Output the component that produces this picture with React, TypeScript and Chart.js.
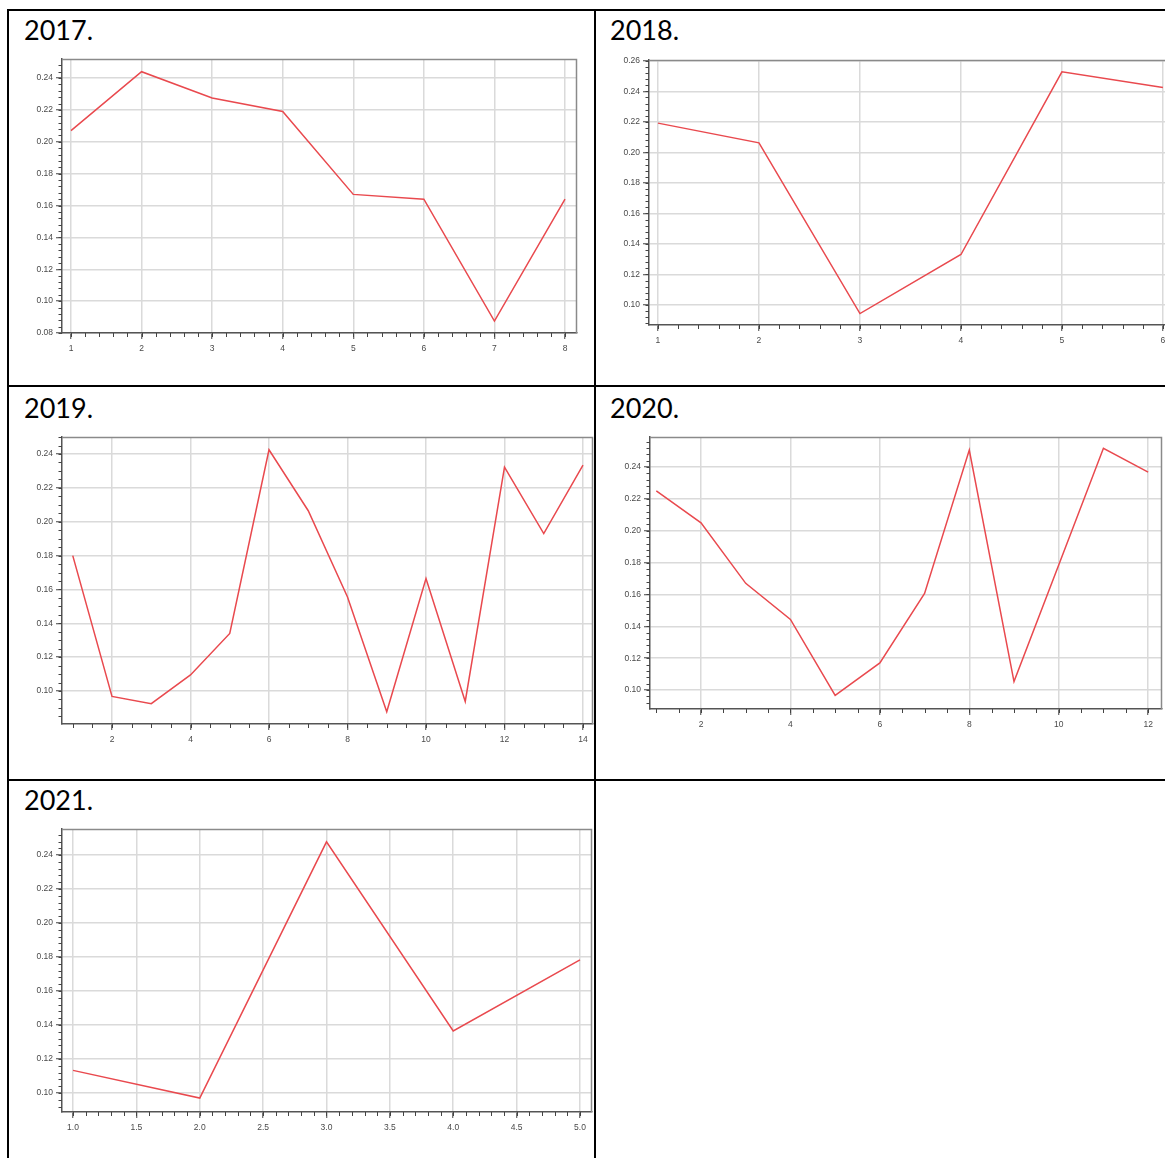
import React, { useEffect, useRef } from 'react';
import { Chart, registerables } from 'chart.js';

Chart.register(...registerables);

// ---------- data ----------
const x2017 = [1, 2, 3, 4, 5, 6, 7, 8];
const y2017 = [0.207, 0.244, 0.2275, 0.219, 0.167, 0.164, 0.0875, 0.164];

const x2018 = [1, 2, 3, 4, 5, 6];
const y2018 = [0.2192, 0.2063, 0.0944, 0.1331, 0.2528, 0.2426];

const x2019 = [1, 2, 3, 4, 5, 6, 7, 8, 9, 10, 11, 12, 13, 14];
const y2019 = [0.18, 0.0968, 0.0925, 0.1095, 0.134, 0.2425, 0.2065, 0.1555, 0.0877, 0.1665, 0.0938, 0.2323, 0.193, 0.2335];

const x2020 = [1, 2, 3, 4, 5, 6, 7, 8, 9, 10, 11, 12];
const y2020 = [0.225, 0.205, 0.167, 0.1443, 0.0966, 0.117, 0.1607, 0.2507, 0.1053, 0.1785, 0.2518, 0.2368];

const x2021 = [1, 2, 3, 4, 5];
const y2021 = [0.1133, 0.097, 0.2478, 0.1365, 0.1783];

const titles = ['2017.', '2018.', '2019.', '2020.', '2021.'];

// ---------- chart configs (layout / axis ranges) ----------
type Cfg = {
  title: string;
  titleX: number;
  titleBaseline: number;
  xs: number[];
  ys: number[];
  L: number; T: number; R: number; B: number;
  xMin: number; xMax: number; xStep: number; xMinor: number; xDec: number;
  yMin: number; yMax: number; yStep: number; yMinor: number;
};

const charts: Cfg[] = [
  { title: titles[0], titleX: 24, titleBaseline: 40, xs: x2017, ys: y2017,
    L: 62, T: 59, R: 577, B: 333,
    xMin: 0.8725, xMax: 8.17, xStep: 1, xMinor: 0.2, xDec: 0,
    yMin: 0.08, yMax: 0.2519, yStep: 0.02, yMinor: 0.004 },
  { title: titles[1], titleX: 610, titleBaseline: 40, xs: x2018, ys: y2018,
    L: 649, T: 60, R: 1172, B: 325,
    xMin: 0.911, xMax: 6.09, xStep: 1, xMinor: 0.2, xDec: 0,
    yMin: 0.0869, yMax: 0.2605, yStep: 0.02, yMinor: 0.004 },
  { title: titles[2], titleX: 24, titleBaseline: 418, xs: x2019, ys: y2019,
    L: 62, T: 437, R: 593, B: 724,
    xMin: 0.726, xMax: 14.255, xStep: 2, xMinor: 0.5, xDec: 0,
    yMin: 0.0805, yMax: 0.25, yStep: 0.02, yMinor: 0.005 },
  { title: titles[3], titleX: 610, titleBaseline: 418, xs: x2020, ys: y2020,
    L: 650, T: 437, R: 1162, B: 709,
    xMin: 0.859, xMax: 12.31, xStep: 2, xMinor: 0.5, xDec: 0,
    yMin: 0.0881, yMax: 0.2588, yStep: 0.02, yMinor: 0.004 },
  { title: titles[4], titleX: 24, titleBaseline: 810, xs: x2021, ys: y2021,
    L: 62, T: 829, R: 592, B: 1112,
    xMin: 0.913, xMax: 5.095, xStep: 0.5, xMinor: 0.1, xDec: 1,
    yMin: 0.0888, yMax: 0.2553, yStep: 0.02, yMinor: 0.004 },
];

const WY = 50;
const HX = 24;
const PAD_TOP = 8;
const PAD_RIGHT = 4;

const framePlugin = {
  id: 'frameMinor',
  afterDraw(chart: any, _args: any, opts: any) {
    const { ctx, chartArea } = chart;
    const xs = chart.scales.x;
    const ys = chart.scales.y;
    ctx.save();
    // top & right frame
    ctx.strokeStyle = '#8a8a8a';
    ctx.lineWidth = 1.5;
    ctx.beginPath();
    ctx.moveTo(chartArea.left, chartArea.top + 0.5);
    ctx.lineTo(chartArea.right - 0.5, chartArea.top + 0.5);
    ctx.lineTo(chartArea.right - 0.5, chartArea.bottom);
    ctx.stroke();
    // minor ticks
    ctx.strokeStyle = '#444';
    ctx.lineWidth = 1;
    ctx.beginPath();
    const xk0 = Math.ceil(xs.min / opts.x - 1e-6);
    const xk1 = Math.floor(xs.max / opts.x + 1e-6);
    for (let k = xk0; k <= xk1; k++) {
      const px = Math.round(xs.getPixelForValue(k * opts.x)) + 0.5;
      ctx.moveTo(px, chartArea.bottom);
      ctx.lineTo(px, chartArea.bottom + 4);
    }
    const yk0 = Math.ceil(ys.min / opts.y - 1e-6);
    const yk1 = Math.floor(ys.max / opts.y + 1e-6);
    for (let k = yk0; k <= yk1; k++) {
      const py = Math.round(ys.getPixelForValue(k * opts.y)) + 0.5;
      ctx.moveTo(chartArea.left, py);
      ctx.lineTo(chartArea.left - 3.5, py);
    }
    ctx.stroke();
    ctx.restore();
  },
};

function LineChart({ cfg }: { cfg: Cfg }) {
  const ref = useRef<HTMLCanvasElement>(null);
  const w = cfg.R - cfg.L + WY + PAD_RIGHT;
  const h = cfg.B - cfg.T + PAD_TOP + HX;

  useEffect(() => {
    if (!ref.current) return;
    const tickFont = { family: '"Liberation Sans", Arial, sans-serif', size: 8.5 };
    const chart = new Chart(ref.current, {
      type: 'line',
      data: {
        datasets: [
          {
            data: cfg.xs.map((x, i) => ({ x, y: cfg.ys[i] })),
            borderColor: '#e9494e',
            borderWidth: 1.5,
            pointRadius: 0,
            tension: 0,
            fill: false,
          },
        ],
      },
      options: {
        responsive: false,
        animation: false,
        events: [],
        layout: { padding: { top: PAD_TOP, right: PAD_RIGHT, left: 0, bottom: 0 } },
        plugins: {
          legend: { display: false },
          tooltip: { enabled: false },
          frameMinor: { x: cfg.xMinor, y: cfg.yMinor },
        } as any,
        scales: {
          x: {
            type: 'linear',
            min: cfg.xMin,
            max: cfg.xMax,
            afterFit: (s: any) => { s.height = HX; },
            ticks: {
              stepSize: cfg.xStep,
              includeBounds: false,
              autoSkip: false,
              maxRotation: 0,
              padding: 5,
              color: '#4a4a4a',
              font: tickFont,
              callback: (v: any) => Number(v).toFixed(cfg.xDec),
            },
            grid: {
              color: '#dadada',
              lineWidth: 1.5,
              drawTicks: true,
              tickLength: 6,
              tickColor: '#444',
              tickWidth: 1,
            },
            border: { display: true, color: '#555', width: 1.5 },
          },
          y: {
            type: 'linear',
            min: cfg.yMin,
            max: cfg.yMax,
            afterFit: (s: any) => { s.width = WY; },
            ticks: {
              stepSize: cfg.yStep,
              includeBounds: false,
              autoSkip: false,
              padding: 3,
              color: '#4a4a4a',
              font: tickFont,
              callback: (v: any) => Number(v).toFixed(2),
            },
            grid: {
              color: '#dadada',
              lineWidth: 1.5,
              drawTicks: true,
              tickLength: 6,
              tickColor: '#444',
              tickWidth: 1,
            },
            border: { display: true, color: '#555', width: 1.5 },
          },
        },
      },
      plugins: [framePlugin],
    } as any);
    return () => chart.destroy();
  }, []);

  return (
    <canvas
      ref={ref}
      width={w}
      height={h}
      style={{ position: 'absolute', left: cfg.L - WY, top: cfg.T - PAD_TOP, width: w, height: h }}
    />
  );
}

const line = (left: number, top: number, width: number, height: number) => (
  <div style={{ position: 'absolute', left, top, width, height, background: '#000' }} />
);

export default function App() {
  return (
    <div
      style={{
        position: 'absolute',
        left: 0,
        top: 0,
        width: 1165,
        height: 1158,
        overflow: 'hidden',
        background: '#fff',
      }}
    >
      {line(7, 9, 1165, 2)}
      {line(7, 385, 1165, 2)}
      {line(7, 779, 1165, 2)}
      {line(7, 9, 2, 1160)}
      {line(594, 9, 2, 1160)}
      {charts.map((c) => (
        <div
          key={c.title + 't'}
          style={{
            position: 'absolute',
            left: c.titleX,
            top: c.titleBaseline - 24,
            fontFamily: 'Lato, "Open Sans", sans-serif',
            fontSize: 27,
            lineHeight: '27px',
            color: '#000',
            whiteSpace: 'nowrap',
          }}
        >
          {c.title}
        </div>
      ))}
      {charts.map((c) => (
        <LineChart key={c.title} cfg={c} />
      ))}
    </div>
  );
}
